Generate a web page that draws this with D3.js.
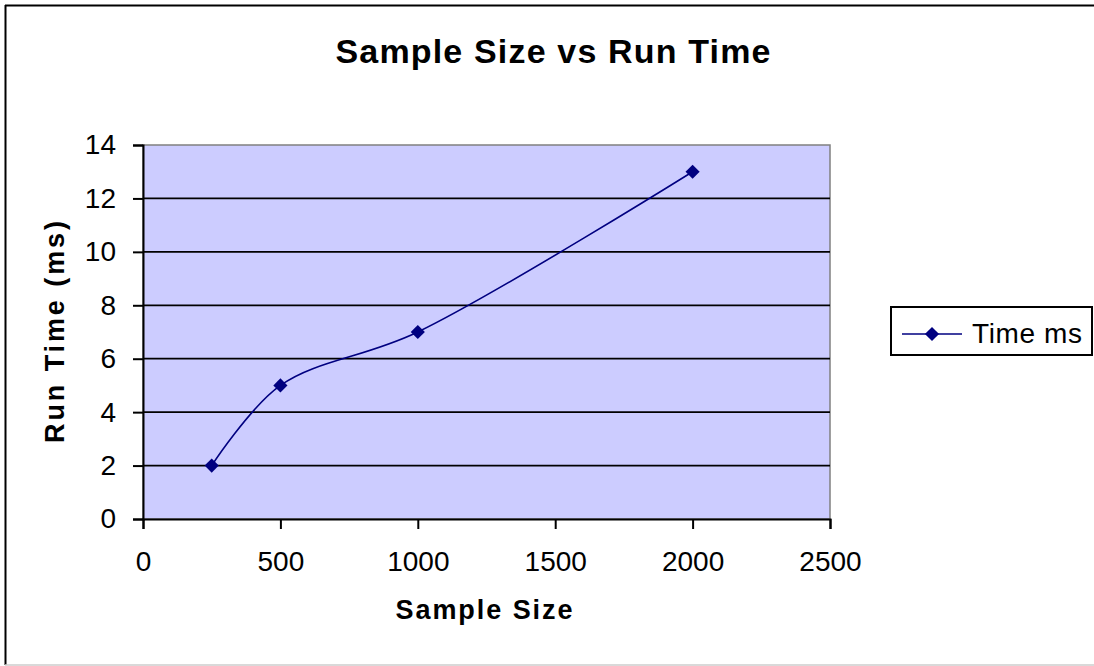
<!DOCTYPE html>
<html>
<head>
<meta charset="utf-8">
<script src="https://cdn.jsdelivr.net/npm/d3@7"></script>
<style>
  body { margin: 0; background: #fff; overflow: hidden; }
  text { font-family: "Liberation Sans", Arial, sans-serif; fill: #000; }
</style>
</head>
<body>
<div id="chart"></div>
<script>
var width = 1094;
var height = 666;

// data
var sampleSizes = [250, 500, 1000, 2000];
var runTimes = [2, 5, 7, 13];
var seriesName = "Time ms";
var xTicks = [0, 500, 1000, 1500, 2000, 2500];
var yTicks = [0, 2, 4, 6, 8, 10, 12, 14];

var points = sampleSizes.map(function (s, i) { return {x: s, y: runTimes[i]}; });

var plot = {left: 143, right: 830, top: 145, bottom: 519};

var svg = d3.select("#chart")
  .append("svg")
    .attr("width", width)
    .attr("height", height)
    .style("display", "block");

// outer frame (only top, left, bottom show)
svg.append("line").attr("x1", 5).attr("x2", width).attr("y1", 5.5).attr("y2", 5.5)
  .attr("stroke", "#000").attr("stroke-width", 2);
svg.append("line").attr("x1", 5.5).attr("x2", 5.5).attr("y1", 5).attr("y2", 665)
  .attr("stroke", "#000").attr("stroke-width", 2);
svg.append("line").attr("x1", 5).attr("x2", width).attr("y1", 665).attr("y2", 665)
  .attr("stroke", "#ccc").attr("stroke-width", 1.5);

var xScale = d3.scaleLinear().domain([0, 2500]).range([plot.left, plot.right]);
var yScale = d3.scaleLinear().domain([0, 14]).range([plot.bottom, plot.top]);

// plot area
svg.append("rect")
  .attr("x", plot.left).attr("y", plot.top)
  .attr("width", plot.right - plot.left).attr("height", plot.bottom - plot.top)
  .attr("fill", "#ccccff")
  .attr("stroke", "#808080").attr("stroke-width", 1.5);

// gridlines
svg.append("g").selectAll("line")
  .data(yTicks.filter(function (d) { return d > 0 && d < 14; }))
  .enter().append("line")
    .attr("x1", plot.left).attr("x2", plot.right)
    .attr("y1", function (d) { return yScale(d); })
    .attr("y2", function (d) { return yScale(d); })
    .attr("stroke", "#000").attr("stroke-width", 1.8);

// axes
var xAxis = svg.append("g")
  .attr("transform", "translate(0," + plot.bottom + ")")
  .call(d3.axisBottom(xScale).tickValues(xTicks).tickFormat(d3.format("d"))
    .tickSize(10).tickPadding(22));
var yAxis = svg.append("g")
  .attr("transform", "translate(" + plot.left + ",0)")
  .call(d3.axisLeft(yScale).tickValues(yTicks).tickFormat(d3.format("d"))
    .tickSize(10).tickPadding(17));

[xAxis, yAxis].forEach(function (ax) {
  ax.select(".domain").attr("stroke", "#000").attr("stroke-width", 2);
  ax.selectAll(".tick line").attr("stroke", "#000").attr("stroke-width", 2);
  ax.selectAll(".tick text")
    .style("font-family", "'Liberation Sans', Arial, sans-serif")
    .attr("font-size", 28).attr("fill", "#000");
});

// smoothed series line
var line = d3.line()
  .x(function (d) { return xScale(d.x); })
  .y(function (d) { return yScale(d.y); })
  .curve(d3.curveCatmullRom.alpha(0.5));

svg.append("path")
  .datum(points)
  .attr("d", line)
  .attr("fill", "none")
  .attr("stroke", "#000080")
  .attr("stroke-width", 1.6);

var diamond = d3.symbol().type(d3.symbolSquare).size(100);

svg.append("g").selectAll("path")
  .data(points)
  .enter().append("path")
    .attr("d", diamond)
    .attr("transform", function (d) {
      return "translate(" + xScale(d.x) + "," + yScale(d.y) + ") rotate(45)";
    })
    .attr("fill", "#000080");

// titles
svg.append("text")
  .attr("x", 553).attr("y", 63)
  .attr("text-anchor", "middle")
  .attr("font-size", 34).attr("font-weight", "bold")
  .attr("textLength", 435)
  .text("Sample Size vs Run Time");

svg.append("text")
  .attr("x", 484).attr("y", 619)
  .attr("text-anchor", "middle")
  .attr("font-size", 27).attr("font-weight", "bold")
  .attr("textLength", 177)
  .text("Sample Size");

svg.append("text")
  .attr("transform", "translate(64,332) rotate(-90)")
  .attr("text-anchor", "middle")
  .attr("font-size", 27).attr("font-weight", "bold")
  .attr("textLength", 222)
  .text("Run Time (ms)");

// legend
var legend = svg.append("g");
legend.append("rect")
  .attr("x", 891).attr("y", 307).attr("width", 201).attr("height", 48)
  .attr("fill", "#fff").attr("stroke", "#000").attr("stroke-width", 2);
legend.append("line")
  .attr("x1", 902).attr("x2", 962).attr("y1", 334).attr("y2", 334)
  .attr("stroke", "#000080").attr("stroke-width", 1.6);
legend.append("path")
  .attr("d", diamond)
  .attr("transform", "translate(932,334) rotate(45)")
  .attr("fill", "#000080");
legend.append("text")
  .attr("x", 972).attr("y", 343)
  .attr("font-size", 28)
  .attr("textLength", 110)
  .text(seriesName);
</script>
</body>
</html>
